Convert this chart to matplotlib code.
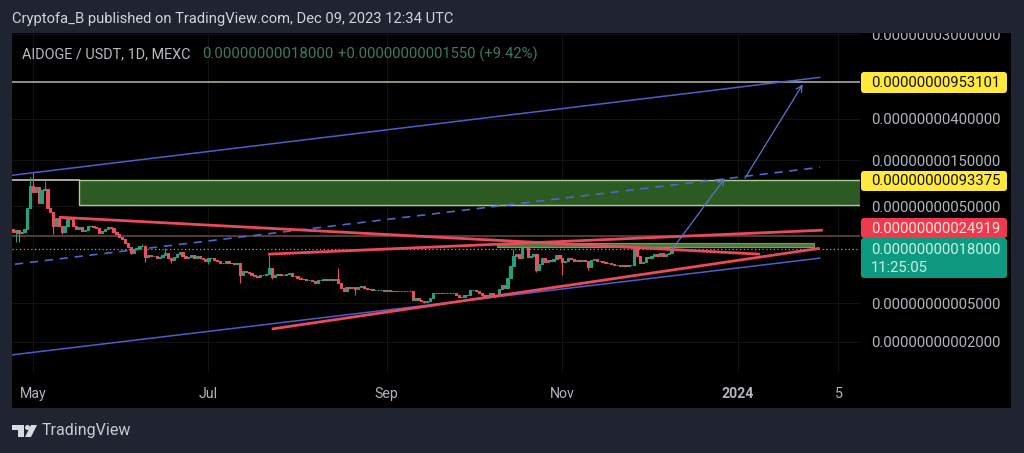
import numpy as np
import matplotlib
matplotlib.use('Agg')
import matplotlib.pyplot as plt
from matplotlib.patches import Rectangle, FancyBboxPatch, Polygon, Circle
from matplotlib.transforms import IdentityTransform

W, H = 1024, 453
UNIT = 1e-10

# daily closes from Apr 24 2023, in units of 1e-10
first_open = 2.90
closes = [2.71, 2.84, 2.64, 2.71, 2.90, 4.77, 8.02, 6.96, 7.84, 5.37, 7.30, 7.47, 4.77, 4.34, 3.12, 3.76,
          3.12, 2.71, 3.12, 3.67, 3.67, 3.12, 2.90, 3.04, 2.77, 2.84, 3.12, 3.12, 3.04, 2.97, 2.64, 2.77,
          2.90, 3.04, 2.97, 2.71, 2.58, 2.40, 2.29, 2.09, 1.90, 1.65, 1.81, 1.85, 1.94, 1.94, 1.50, 1.57,
          1.53, 1.53, 1.46, 1.50, 1.57, 1.65, 1.46, 1.39, 1.50, 1.61, 1.69, 1.53, 1.46, 1.50, 1.57, 1.46,
          1.53, 1.46, 1.43, 1.36, 1.46, 1.46, 1.39, 1.36, 1.30, 1.30, 1.36, 1.30, 1.30, 1.27, 1.30, 0.98,
          1.07, 1.05, 1.03, 0.98, 0.96, 0.93, 0.98, 0.98, 1.00, 1.15, 0.93, 0.98, 1.00, 0.98, 0.98, 1.00,
          1.03, 0.96, 0.96, 0.91, 0.89, 0.89, 0.87, 0.87, 0.85, 0.81, 0.87, 0.87, 0.89, 0.87, 0.89, 0.87,
          0.89, 0.81, 0.72, 0.66, 0.74, 0.72, 0.74, 0.70, 0.74, 0.75, 0.72, 0.70, 0.70, 0.69, 0.69, 0.69,
          0.69, 0.67, 0.69, 0.67, 0.66, 0.66, 0.66, 0.67, 0.66, 0.66, 0.66, 0.54, 0.56, 0.54, 0.52, 0.51,
          0.52, 0.57, 0.64, 0.63, 0.64, 0.64, 0.64, 0.63, 0.63, 0.63, 0.60, 0.58, 0.58, 0.61, 0.61, 0.69,
          0.69, 0.66, 0.64, 0.60, 0.58, 0.60, 0.64, 0.61, 0.61, 0.70, 0.77, 0.72, 0.91, 1.21, 1.53, 1.61,
          1.46, 1.90, 1.94, 1.50, 1.53, 1.61, 1.10, 1.27, 1.46, 1.33, 1.39, 1.36, 1.43, 1.57, 1.46, 1.33,
          1.36, 1.46, 1.43, 1.36, 1.39, 1.36, 1.39, 1.36, 1.18, 1.39, 1.43, 1.36, 1.36, 1.33, 1.30, 1.30,
          1.27, 1.24, 1.24, 1.21, 1.24, 1.21, 1.24, 1.24, 1.90, 1.53, 1.30, 1.33, 1.50, 1.46, 1.53, 1.61,
          1.53, 1.65, 1.53, 1.61, 1.65, 1.80]

# the wicks that stand out, day counted from May 1
high_days = [-1, 0, 4, 38, 39, 46, 82, 106, 167, 170, 209]
high_vals = [10.0, 11.0, 9.05, 2.04, 1.99, 1.85, 1.57, 1.15, 1.81, 2.04, 2.09]
low_days = [-6, -5, 7, 10, 34, 39, 48, 61, 72, 83, 112, 136, 175, 184, 193]
low_vals = [2.14, 2.14, 2.58, 2.58, 1.61, 1.33, 1.30, 1.27, 0.81, 0.89, 0.61, 0.50, 1.05, 0.98, 1.10]

# drawings on the chart: day, price
red_lines = [([9, 252.7], [3.85, 1.60]),
             ([81.7, 274.6], [1.60, 2.83]),
             ([83, 273.5], [0.27, 1.84])]
blue_lines = [([-7.3, 273.5], [10.43, 107]),
              ([-7.3, 273.5], [0.146, 1.455])]
dashed_line = ([-6.3, 273.5], [1.26, 12.6])
arrows = [([222, 240.5], [1.76, 9.72]),
          ([247.5, 267.6], [9.72, 90.6])]
zone_big = (16, 288, 5.12, 9.3375)
zone_small = (161.3, 271.5, 1.89, 2.08)

level_top = 95.3101
level_zone = 9.3375
level_red = 2.4919
level_last = 1.80

price_ticks = [3e-8, 4e-9, 1.5e-9, 5e-10, 5e-11, 2e-11]
time_ticks = [0, 61, 123, 184, 245, 280]
time_labels = ['May', 'Jul', 'Sep', 'Nov', '2024', '5']

BG = '#1f2430'
GREEN = '#2a9d7c'
RED = '#e8505f'
BLUE = '#4b5fc9'
GREY = '#b2b5be'

plt.rcParams['font.family'] = ['Roboto', 'DejaVu Sans']


def px_x(x):
    return x / W


def px_y(y):
    return 1 - y / H


def add_label(fig, y0, y1, color):
    box = FancyBboxPatch((861, H - y1), 146, y1 - y0, boxstyle='round,pad=0,rounding_size=3',
                         fc=color, ec='none', transform=IdentityTransform(), zorder=5)
    fig.add_artist(box)


fig = plt.figure(figsize=(W / 100, H / 100), dpi=100, facecolor=BG)
fig.add_artist(Rectangle((12 / W, 1 - 408 / H), 999 / W, 375 / H, fc='black', ec='none',
                         transform=fig.transFigure, zorder=-1))

ax = fig.add_axes([px_x(12), px_y(372), 848 / W, 338 / H], facecolor='black', zorder=1)
ax.set_yscale('log')
ax.set_xlim(-7.3, 287.5)
ax.set_ylim(5e-10 * 10 ** (-166 / 97), 5e-10 * 10 ** (172 / 97))

# candles
closes = np.array(closes) * UNIT
days = np.arange(len(closes)) - 7
opens = np.r_[first_open * UNIT, closes[:-1]]
highs = np.maximum(opens, closes)
lows = np.minimum(opens, closes)
for d, v in zip(high_days, high_vals):
    highs[d + 7] = v * UNIT
for d, v in zip(low_days, low_vals):
    lows[d + 7] = v * UNIT
colors = [GREEN if c >= o else RED for o, c in zip(opens, closes)]
ax.vlines(days, lows, highs, colors=colors, lw=0.8, zorder=3)
ax.bar(days, np.abs(closes - opens), bottom=np.minimum(opens, closes), width=0.8,
       color=colors, edgecolor=colors, linewidth=0.8, zorder=3)

# zones
d0, d1, lo, hi = zone_big
ax.add_patch(Rectangle((d0, lo * UNIT), d1 - d0, (hi - lo) * UNIT, fc='#2d5a22', ec='#a5cc93', lw=1, zorder=2))
d0, d1, lo, hi = zone_small
ax.add_patch(Rectangle((d0, lo * UNIT), d1 - d0, (hi - lo) * UNIT, fc='#4d7a3c', ec='#7f9a5c', lw=0.8, zorder=4))

# levels
ax.axhline(level_top * UNIT, color='#a9a99a', lw=1.2, zorder=2)
ax.plot([-7.3, 16], [level_zone * UNIT, level_zone * UNIT], color='#d5d8cc', lw=1.1, zorder=2)
ax.axhline(level_red * UNIT, color='#6e4a44', lw=1.1, zorder=2)
ax.axhline(level_last * UNIT, color='#9a9a9a', lw=0.9, ls=(0, (1, 2)), zorder=2)

# drawings
for xs, ys in blue_lines:
    ax.plot(xs, np.array(ys) * UNIT, color=BLUE, lw=1.1, zorder=5)
ax.plot(dashed_line[0], np.array(dashed_line[1]) * UNIT, color='#4f66d0', lw=1.2, ls=(0, (5, 4)), zorder=2)
for xs, ys in red_lines:
    ax.plot(xs, np.array(ys) * UNIT, color='#ea4a5c', lw=2.0, zorder=6, solid_capstyle='butt')
for xs, ys in arrows:
    ax.annotate('', xy=(xs[1], ys[1] * UNIT), xytext=(xs[0], ys[0] * UNIT), zorder=7,
                arrowprops=dict(arrowstyle='->', color='#5c75cc', lw=0.9, shrinkA=0, shrinkB=0, mutation_scale=11))

# axes
for s in ax.spines.values():
    s.set_visible(False)
ax.yaxis.tick_right()
ax.minorticks_off()
ax.set_yticks(price_ticks)
ax.set_yticklabels([f'{v:.14f}' for v in price_ticks], fontsize=10.7, color=GREY)
ax.set_yticks([], minor=True)
ax.tick_params(axis='y', length=0, pad=8)
ax.set_xticks(time_ticks)
ax.set_xticklabels(time_labels, fontsize=10.2, color=GREY)
ax.get_xticklabels()[4].set_fontweight('bold')
ax.tick_params(axis='x', length=0, pad=11)
ax.grid(True, color='#121212', lw=0.8, zorder=0)
ax.set_axisbelow(True)

# header strip hides the top of the first price label
fig.add_artist(Rectangle((0, 1 - 33 / H), 1, 33 / H, fc=BG, ec='none', transform=fig.transFigure, zorder=5))
fig.text(px_x(12), px_y(19), 'Cryptofa_B published on TradingView.com, Dec 09, 2023 12:34 UTC',
         fontsize=10.65, color='#d1d4dc', va='center', zorder=6)
fig.text(px_x(22), px_y(54), 'AIDOGE / USDT, 1D, MEXC', fontsize=10.4, color='#b8bbc2', va='center', zorder=6)
fig.text(px_x(202), px_y(54), '0.00000000018000', fontsize=10.8, color='#3d7a5f', va='center', zorder=6)
fig.text(px_x(338), px_y(54), '+0.00000000001550 (+9.42%)', fontsize=10.7, color='#3d7a5f', va='center', zorder=6)

# price labels
add_label(fig, 72, 93, '#ffe93b')
add_label(fig, 171, 191, '#ffe93b')
add_label(fig, 218, 238, '#ee3a4c')
add_label(fig, 238, 278, '#0e9a80')
fig.text(px_x(871), px_y(83), f'{level_top * UNIT:.14f}', fontsize=10.7, color='#111111', va='center', zorder=6)
fig.text(px_x(871), px_y(181), f'{level_zone * UNIT:.14f}', fontsize=10.7, color='#111111', va='center', zorder=6)
fig.text(px_x(871), px_y(229), f'{level_red * UNIT:.14f}', fontsize=10.7, color='#f5e6e6', va='center', zorder=6)
fig.text(px_x(871), px_y(250), f'{level_last * UNIT:.14f}', fontsize=10.7, color='#c9f2e6', va='center', zorder=6)
fig.text(px_x(871), px_y(268), '11:25:05', fontsize=10.7, color='#c9f2e6', va='center', zorder=6)

# logo and footer
logo = IdentityTransform()
fig.add_artist(Polygon([(12, H - 425), (24, H - 425), (24, H - 437), (18, H - 437), (18, H - 430), (12, H - 430)],
                       fc='#d9dbe0', ec='none', transform=logo, zorder=6))
fig.add_artist(Circle((27.5, H - 427.5), 2.5, fc='#d9dbe0', ec='none', transform=logo, zorder=6))
fig.add_artist(Polygon([(31, H - 425), (37, H - 425), (31, H - 437), (25, H - 437)],
                       fc='#d9dbe0', ec='none', transform=logo, zorder=6))
fig.text(px_x(42), px_y(431), 'TradingView', fontsize=11.5, color='#c9ccd3', va='center', zorder=6)

fig.savefig('out.png', dpi=100, facecolor=BG)
